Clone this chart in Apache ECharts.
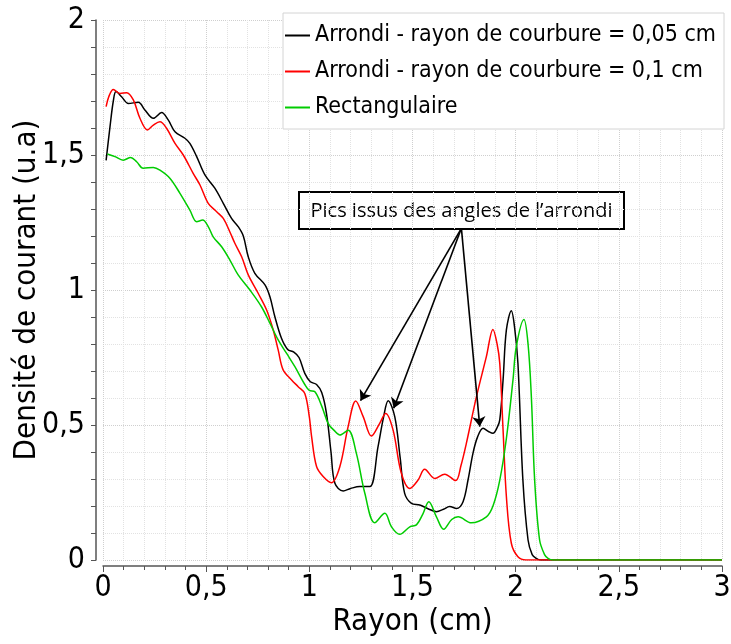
<!DOCTYPE html>
<html>
<head>
<meta charset="utf-8">
<script src="https://cdn.jsdelivr.net/npm/echarts@6/dist/echarts.min.js"></script>
<style>
  html, body { margin: 0; padding: 0; background: #fff; }
  #chart { width: 731px; height: 644px; }
</style>
</head>
<body>
<div id="chart"></div>
<script>
// Radial current density profiles (arbitrary units) versus radius in cm.
const seriesNames = [
  'Arrondi - rayon de courbure = 0,05 cm',
  'Arrondi - rayon de courbure = 0,1 cm',
  'Rectangulaire'
];

const rBlack = [0.015, 0.034, 0.050, 0.063, 0.090, 0.123, 0.171, 0.203, 0.244, 0.284, 0.316, 0.349, 0.397, 0.421, 0.454, 0.494, 0.542, 0.583, 0.623, 0.655, 0.680, 0.704, 0.736, 0.785, 0.809, 0.833, 0.865, 0.895, 0.925, 0.950, 0.978, 1.005, 1.035, 1.060, 1.083, 1.105, 1.124, 1.164, 1.200, 1.245, 1.293, 1.333, 1.360, 1.382, 1.414, 1.440, 1.462, 1.495, 1.535, 1.575, 1.616, 1.650, 1.680, 1.713, 1.745, 1.770, 1.793, 1.815, 1.842, 1.870, 1.890, 1.910, 1.923, 1.939, 1.955, 1.979, 1.995, 2.011, 2.035, 2.060, 2.080, 2.100, 2.120, 3.0];
const jBlack = [1.480, 1.605, 1.700, 1.735, 1.716, 1.691, 1.695, 1.667, 1.636, 1.657, 1.630, 1.586, 1.562, 1.543, 1.494, 1.426, 1.377, 1.321, 1.265, 1.235, 1.200, 1.123, 1.062, 1.019, 0.975, 0.901, 0.821, 0.780, 0.770, 0.750, 0.691, 0.660, 0.650, 0.620, 0.543, 0.400, 0.284, 0.256, 0.265, 0.272, 0.272, 0.420, 0.530, 0.590, 0.531, 0.380, 0.247, 0.210, 0.204, 0.190, 0.179, 0.188, 0.198, 0.191, 0.216, 0.300, 0.395, 0.455, 0.488, 0.475, 0.469, 0.490, 0.519, 0.667, 0.852, 0.923, 0.860, 0.728, 0.296, 0.074, 0.020, 0.006, 0.0, 0.0];

const rRed = [0.015, 0.030, 0.050, 0.082, 0.115, 0.147, 0.179, 0.215, 0.244, 0.276, 0.308, 0.349, 0.389, 0.437, 0.470, 0.510, 0.551, 0.583, 0.615, 0.639, 0.672, 0.704, 0.752, 0.793, 0.825, 0.849, 0.873, 0.914, 0.946, 0.978, 1.000, 1.011, 1.035, 1.067, 1.107, 1.148, 1.188, 1.225, 1.261, 1.301, 1.341, 1.370, 1.406, 1.446, 1.487, 1.527, 1.559, 1.608, 1.656, 1.709, 1.735, 1.761, 1.810, 1.858, 1.890, 1.910, 1.923, 1.939, 1.955, 1.979, 2.011, 2.050, 3.0];
const jRed = [1.679, 1.720, 1.743, 1.728, 1.731, 1.704, 1.636, 1.593, 1.611, 1.623, 1.599, 1.543, 1.500, 1.432, 1.389, 1.321, 1.290, 1.265, 1.215, 1.173, 1.123, 1.056, 0.988, 0.926, 0.852, 0.778, 0.704, 0.667, 0.642, 0.617, 0.530, 0.457, 0.346, 0.309, 0.286, 0.346, 0.494, 0.589, 0.531, 0.459, 0.506, 0.543, 0.481, 0.321, 0.265, 0.296, 0.336, 0.302, 0.318, 0.294, 0.350, 0.432, 0.605, 0.753, 0.854, 0.800, 0.728, 0.481, 0.235, 0.062, 0.012, 0.0, 0.0];

const rGreen = [0.021, 0.058, 0.098, 0.134, 0.163, 0.195, 0.244, 0.276, 0.324, 0.373, 0.421, 0.454, 0.483, 0.510, 0.534, 0.575, 0.615, 0.655, 0.712, 0.768, 0.809, 0.849, 0.890, 0.930, 0.978, 1.000, 1.027, 1.060, 1.091, 1.120, 1.148, 1.188, 1.228, 1.269, 1.317, 1.366, 1.398, 1.438, 1.487, 1.519, 1.550, 1.579, 1.616, 1.651, 1.690, 1.721, 1.785, 1.858, 1.890, 1.923, 1.955, 1.987, 2.003, 2.040, 2.060, 2.076, 2.092, 2.116, 2.140, 2.157, 2.180, 3.0];
const jGreen = [1.504, 1.494, 1.481, 1.491, 1.475, 1.451, 1.454, 1.444, 1.414, 1.358, 1.296, 1.253, 1.259, 1.235, 1.197, 1.160, 1.111, 1.056, 1.000, 0.938, 0.877, 0.815, 0.765, 0.716, 0.650, 0.628, 0.623, 0.570, 0.506, 0.480, 0.463, 0.481, 0.395, 0.247, 0.138, 0.173, 0.123, 0.095, 0.123, 0.130, 0.170, 0.216, 0.160, 0.114, 0.150, 0.160, 0.138, 0.160, 0.200, 0.296, 0.450, 0.667, 0.790, 0.891, 0.800, 0.605, 0.296, 0.074, 0.020, 0.006, 0.0, 0.0];

// Callout: arrows from the note box down to the corner-induced peaks (data coordinates)
const calloutStart = [1.737, 1.2285];
const calloutTargets = [[1.248, 0.590], [1.409, 0.562], [1.826, 0.494]];
const calloutText = 'Pics issus des angles de l\u2019arrondi';

const colors = ['#000000', '#ff0000', '#00cc00'];
const uiFont = '"DejaVu Sans Condensed", "DejaVu Sans", sans-serif';

const zip = (xs, ys) => xs.map((x, i) => [x, ys[i]]);
const comma = v => String(v).replace('.', ',');

const chart = echarts.init(document.getElementById('chart'), null, { renderer: 'canvas' });

const makeSeries = (name, xs, ys, color, extra) => Object.assign({
  name: name,
  type: 'line',
  data: zip(xs, ys),
  smooth: 0.35,
  symbol: 'none',
  showSymbol: false,
  lineStyle: { color: color, width: 1.5 },
  itemStyle: { color: color },
  emphasis: { disabled: true },
  z: 3
}, extra || {});

chart.setOption({
  animation: false,
  grid: { left: 103, right: 9, top: 20, bottom: 84, containLabel: false, outerBoundsMode: 'none' },
  legend: {
    orient: 'vertical',
    left: 283,
    top: 13,
    data: seriesNames,
    icon: 'rect',
    backgroundColor: '#ffffff',
    borderColor: '#d4d4d4',
    borderWidth: 1,
    padding: [11, 8, 10, 2],
    itemGap: 13,
    itemWidth: 25,
    itemHeight: 2,
    textStyle: { fontFamily: uiFont, fontSize: 23, color: '#000', lineHeight: 23 }
  },
  xAxis: {
    type: 'value',
    min: 0, max: 3, interval: 0.5,
    offset: 6,
    name: 'Rayon (cm)',
    nameLocation: 'middle',
    nameGap: 40,
    nameMoveOverlap: false,
    nameTextStyle: { fontFamily: uiFont, fontSize: 31, color: '#000' },
    axisLine: { show: true, onZero: false, lineStyle: { color: '#555', width: 1.5 } },
    axisTick: { show: true, inside: false, length: 6, lineStyle: { color: '#555' } },
    minorTick: { show: true, splitNumber: 5, length: 4, lineStyle: { color: '#555' } },
    axisLabel: { formatter: comma, fontFamily: uiFont, fontSize: 30, color: '#000', margin: 7 },
    splitLine: { show: true, lineStyle: { color: '#cfcfcf', type: 'dotted', width: 1 } },
    minorSplitLine: { show: true, lineStyle: { color: '#e2e2e2', type: 'dotted', width: 1 } }
  },
  yAxis: {
    type: 'value',
    min: 0, max: 2, interval: 0.5,
    offset: 7,
    name: 'Densité de courant (u.a)',
    nameLocation: 'middle',
    nameGap: 54,
    nameMoveOverlap: false,
    nameTextStyle: { fontFamily: uiFont, fontSize: 31, color: '#000' },
    axisLine: { show: true, onZero: false, lineStyle: { color: '#555', width: 1.5 } },
    axisTick: { show: true, inside: false, length: 5, lineStyle: { color: '#555' } },
    minorTick: { show: true, splitNumber: 5, length: 5, lineStyle: { color: '#555' } },
    axisLabel: { formatter: comma, fontFamily: uiFont, fontSize: 30, color: '#000', margin: 11 },
    splitLine: { show: true, lineStyle: { color: '#cfcfcf', type: 'dotted', width: 1 } },
    minorSplitLine: { show: true, lineStyle: { color: '#e2e2e2', type: 'dotted', width: 1 } }
  },
  series: [
    makeSeries(seriesNames[0], rBlack, jBlack, colors[0], {
      markLine: {
        silent: true,
        animation: false,
        symbol: ['none', 'arrow'],
        symbolSize: 10,
        label: { show: false },
        itemStyle: { color: '#000' },
        lineStyle: { color: '#000', width: 1.6, type: 'solid' },
        emphasis: { disabled: true },
        data: calloutTargets.map(t => [{ coord: calloutStart }, { coord: t }])
      }
    }),
    makeSeries(seriesNames[1], rRed, jRed, colors[1]),
    makeSeries(seriesNames[2], rGreen, jGreen, colors[2])
  ],
  graphic: [{
    type: 'group',
    left: 298,
    top: 191,
    z: 100,
    children: [
      { type: 'rect', shape: { x: 0, y: 0, width: 325, height: 37 },
        style: { fill: '#fff', stroke: '#000', lineWidth: 2 } },
      { type: 'text', x: 162.5, y: 19,
        style: { text: calloutText, fontFamily: '"Open Sans", "Noto Sans", sans-serif', fontSize: 20,
                 fill: '#000', align: 'center', verticalAlign: 'middle' } }
    ]
  }]
});
</script>
</body>
</html>
